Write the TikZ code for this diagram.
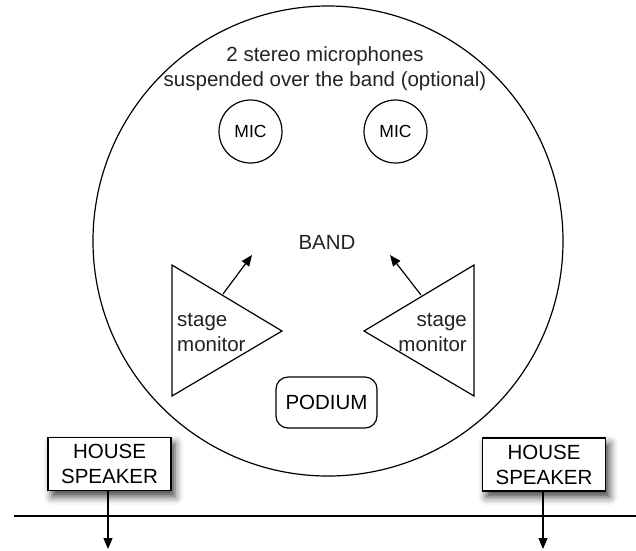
\documentclass[tikz,border=0pt]{standalone}
\usepackage{fontspec}
\setmainfont{Liberation Sans}
\usetikzlibrary{arrows.meta,shadows.blur}
\definecolor{txt}{RGB}{35,35,35}
\tikzset{
  every node/.style={text=txt, font=\fontsize{20.5}{25}\selectfont, inner sep=0pt},
  ln/.style={line width=1.2pt, black},
  arr/.style={line width=1.2pt, -{Triangle[length=11pt,width=9pt]}},
  micnode/.style={circle, draw, ln, minimum size=63pt, font=\fontsize{17.5}{20}\selectfont},
  housebox/.style={rectangle, draw, ln, fill=white, minimum width=123pt, minimum height=53pt, align=center,
    blur shadow={shadow xshift=4pt, shadow yshift=-6pt, shadow blur radius=8pt, shadow opacity=75}},
  podiumbox/.style={rectangle, rounded corners=12pt, draw, ln, minimum width=101pt, minimum height=51pt}
}
\begin{document}
\begin{tikzpicture}[x=1pt,y=-1pt]
\useasboundingbox (0,0) rectangle (636,550);
% stage circle
\node[circle, draw, ln, minimum size=470pt] (stage) at (328,241) {};
% title
\node[align=center] (title) at (325,69) {2 stereo microphones\\suspended over the band (optional)};
% mics
\node[micnode] (mic1) at (250.5,131.5) {MIC};
\node[micnode] (mic2) at (395.5,131.5) {MIC};
% band
\node (band) at (327,242) {BAND};
% left stage monitor
\draw[ln, line join=miter] (172,265) -- (282,331) -- (172,396) -- cycle;
\node[align=left, anchor=west] (lmon) at (177,332) {stage\\monitor};
\coordinate (lstart) at (223,294);
\coordinate (lend) at (252,255);
\draw[arr] (lstart) -- (lend);
% right stage monitor
\draw[ln, line join=miter] (474,265) -- (364,331) -- (474,396) -- cycle;
\node[align=right, anchor=east] (rmon) at (467,332) {stage\\monitor};
\coordinate (rstart) at (421,295);
\coordinate (rend) at (390,255);
\draw[arr] (rstart) -- (rend);
% podium
\node[podiumbox] (podium) at (326.5,402.5) {PODIUM};
% floor line
\coordinate (fl) at (14,516);
\coordinate (fr) at (636,516);
\draw[ln] (fl) -- (fr);
% house speakers
\node[housebox] (hsl) at (109.5,464) {HOUSE\\SPEAKER};
\node[housebox] (hsr) at (544,464.5) {HOUSE\\SPEAKER};
\coordinate (hslend) at (108,549);
\coordinate (hsrend) at (543,549);
\draw[arr] (hsl.south -| hslend) -- (hslend);
\draw[arr] (hsr.south -| hsrend) -- (hsrend);
\end{tikzpicture}
\end{document}
